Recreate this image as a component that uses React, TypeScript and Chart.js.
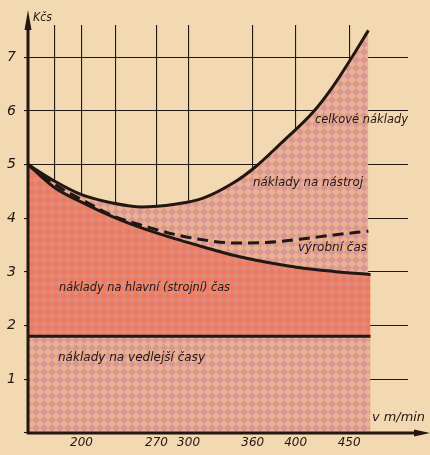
import React, { useEffect, useRef } from "react";
import { Chart, registerables } from "chart.js";

Chart.register(...registerables);

// speed v [m/min] and costs [Kčs]
const totalSpeed = [150, 175, 200, 230, 256, 287, 313, 342, 362, 387, 416, 434, 452, 468];
const totalCost = [5.0, 4.69, 4.44, 4.28, 4.21, 4.26, 4.37, 4.66, 4.95, 5.41, 5.97, 6.43, 6.98, 7.5];

const prodSpeed = [150, 175, 200, 230, 256, 287, 313, 342, 373, 404, 436, 468];
const prodCost = [5.0, 4.63, 4.35, 4.04, 3.87, 3.7, 3.6, 3.54, 3.55, 3.61, 3.69, 3.76];

const machineSpeed = [150, 175, 200, 230, 256, 287, 313, 342, 373, 404, 436, 470];
const machineCost = [5.0, 4.57, 4.3, 4.02, 3.82, 3.62, 3.47, 3.31, 3.18, 3.08, 3.01, 2.95];

const auxSpeed = [150, 470];
const auxCost = [1.8, 1.8];

const xGridValues = [175, 200, 232, 270, 300, 360, 400, 450];
const xLabelValues = [200, 270, 300, 360, 400, 450];
const yTickValues = [0, 1, 2, 3, 4, 5, 6, 7];

const labels = [
  { text: "Kčs", x0: 33, x1: 52, y: 18 },
  { text: "celkové náklady", x0: 315, x1: 408, y: 120 },
  { text: "náklady na nástroj", x0: 253, x1: 363, y: 183 },
  { text: "výrobní čas", x0: 298, x1: 367, y: 248 },
  { text: "náklady na hlavní (strojní) čas", x0: 59, x1: 230, y: 288 },
  { text: "náklady na vedlejší časy", x0: 58, x1: 205, y: 358 },
  { text: "v m/min", x0: 372, x1: 425, y: 418 },
];

const PAPER = "#f2d9b2";
const INK = "#231712";

const pts = (xs: number[], ys: number[]) => xs.map((x, i) => ({ x, y: ys[i] }));

function makePattern(a: string, b: string) {
  const t = document.createElement("canvas");
  t.width = 8;
  t.height = 8;
  const c = t.getContext("2d")!;
  c.fillStyle = a;
  c.fillRect(0, 0, 8, 8);
  c.fillStyle = b;
  c.beginPath();
  c.moveTo(4, 0);
  c.lineTo(8, 4);
  c.lineTo(4, 8);
  c.lineTo(0, 4);
  c.closePath();
  c.fill();
  return c.createPattern(t, "repeat") as CanvasPattern;
}

export default function App() {
  const ref = useRef<HTMLCanvasElement | null>(null);

  useEffect(() => {
    if (!ref.current) return;
    const RED = makePattern("#f07a58", "#e08a84");
    const MAUVE = makePattern("#ecb28a", "#d6969a");

    const decor = {
      id: "decor",
      beforeDraw(chart: any) {
        const c = chart.ctx;
        c.save();
        c.fillStyle = PAPER;
        c.fillRect(0, 0, chart.width, chart.height);
        c.restore();
      },
      afterDraw(chart: any) {
        const c = chart.ctx;
        const xs = chart.scales.x;
        const ys = chart.scales.y;
        const ox = xs.getPixelForValue(150);
        const oy = ys.getPixelForValue(0);
        c.save();
        c.strokeStyle = INK;
        c.fillStyle = INK;
        c.lineWidth = 3;
        // y axis
        c.beginPath();
        c.moveTo(ox, oy + 1);
        c.lineTo(ox, 22);
        c.stroke();
        c.beginPath();
        c.moveTo(ox, 10);
        c.lineTo(ox - 3.5, 30);
        c.lineTo(ox + 3.5, 30);
        c.closePath();
        c.fill();
        // x axis
        c.beginPath();
        c.moveTo(ox - 1, oy);
        c.lineTo(420, oy);
        c.stroke();
        c.beginPath();
        c.moveTo(430, oy);
        c.lineTo(414, oy - 3.5);
        c.lineTo(414, oy + 3.5);
        c.closePath();
        c.fill();
        // texts
        c.font = "italic 13px 'DejaVu Sans'";
        c.textBaseline = "middle";
        c.textAlign = "left";
        for (const l of labels) {
          const w = c.measureText(l.text).width;
          c.save();
          c.translate(l.x0, l.y);
          c.scale((l.x1 - l.x0) / w, 1);
          c.fillText(l.text, 0, 0);
          c.restore();
        }
        c.restore();
      },
    };

    const chart = new Chart(ref.current, {
      type: "line",
      data: {
        datasets: [
          {
            label: "náklady na vedlejší časy",
            data: pts(auxSpeed, auxCost),
            borderColor: INK,
            borderWidth: 3,
            backgroundColor: MAUVE,
            fill: "origin",
            pointRadius: 0,
            order: 1,
          },
          {
            label: "náklady na hlavní (strojní) čas",
            data: pts(machineSpeed, machineCost),
            borderColor: INK,
            borderWidth: 3,
            backgroundColor: RED,
            fill: 0,
            pointRadius: 0,
            cubicInterpolationMode: "monotone",
            order: 1,
          },
          {
            label: "celkové náklady",
            data: pts(totalSpeed, totalCost),
            borderColor: INK,
            borderWidth: 3,
            backgroundColor: MAUVE,
            fill: 1,
            pointRadius: 0,
            cubicInterpolationMode: "monotone",
            order: 1,
          },
          {
            label: "výrobní čas",
            data: pts(prodSpeed, prodCost),
            borderColor: INK,
            borderWidth: 3,
            borderDash: [11, 6],
            fill: false,
            pointRadius: 0,
            cubicInterpolationMode: "monotone",
            order: 0,
          },
        ],
      },
      options: {
        animation: false,
        responsive: false,
        maintainAspectRatio: false,
        layout: { padding: { top: 25, right: 22, left: 0, bottom: 0 } },
        plugins: { legend: { display: false }, tooltip: { enabled: false } },
        scales: {
          x: {
            type: "linear",
            min: 150,
            max: 505,
            z: 1,
            afterFit: (s: any) => {
              s.height = 22;
            },
            afterBuildTicks: (s: any) => {
              s.ticks = xGridValues.map((v) => ({ value: v }));
            },
            grid: { color: INK, lineWidth: 1.1, drawTicks: false },
            border: { display: false },
            ticks: {
              padding: 3,
              color: INK,
              font: { family: "'DejaVu Sans'", style: "italic", size: 12 },
              callback: (v: any) => (xLabelValues.includes(Number(v)) ? String(v) : ""),
              maxRotation: 0,
              autoSkip: false,
            },
          },
          y: {
            min: 0,
            max: 7.6,
            z: 1,
            afterFit: (s: any) => {
              s.width = 28;
            },
            afterBuildTicks: (s: any) => {
              s.ticks = yTickValues.map((v) => ({ value: v }));
            },
            grid: { color: INK, lineWidth: 1.1, drawTicks: true, tickLength: 4 },
            border: { display: false },
            ticks: {
              padding: 8,
              color: INK,
              font: { family: "'DejaVu Sans'", style: "italic", size: 14 },
              callback: (v: any) => (Number(v) === 0 ? "" : String(v)),
            },
          },
        },
      },
      plugins: [decor],
    } as any);
    return () => chart.destroy();
  }, []);

  return (
    <div style={{ position: "fixed", left: 0, top: 0, width: 430, height: 455, background: PAPER }}>
      <canvas ref={ref} width={430} height={455} style={{ display: "block" }} />
    </div>
  );
}
